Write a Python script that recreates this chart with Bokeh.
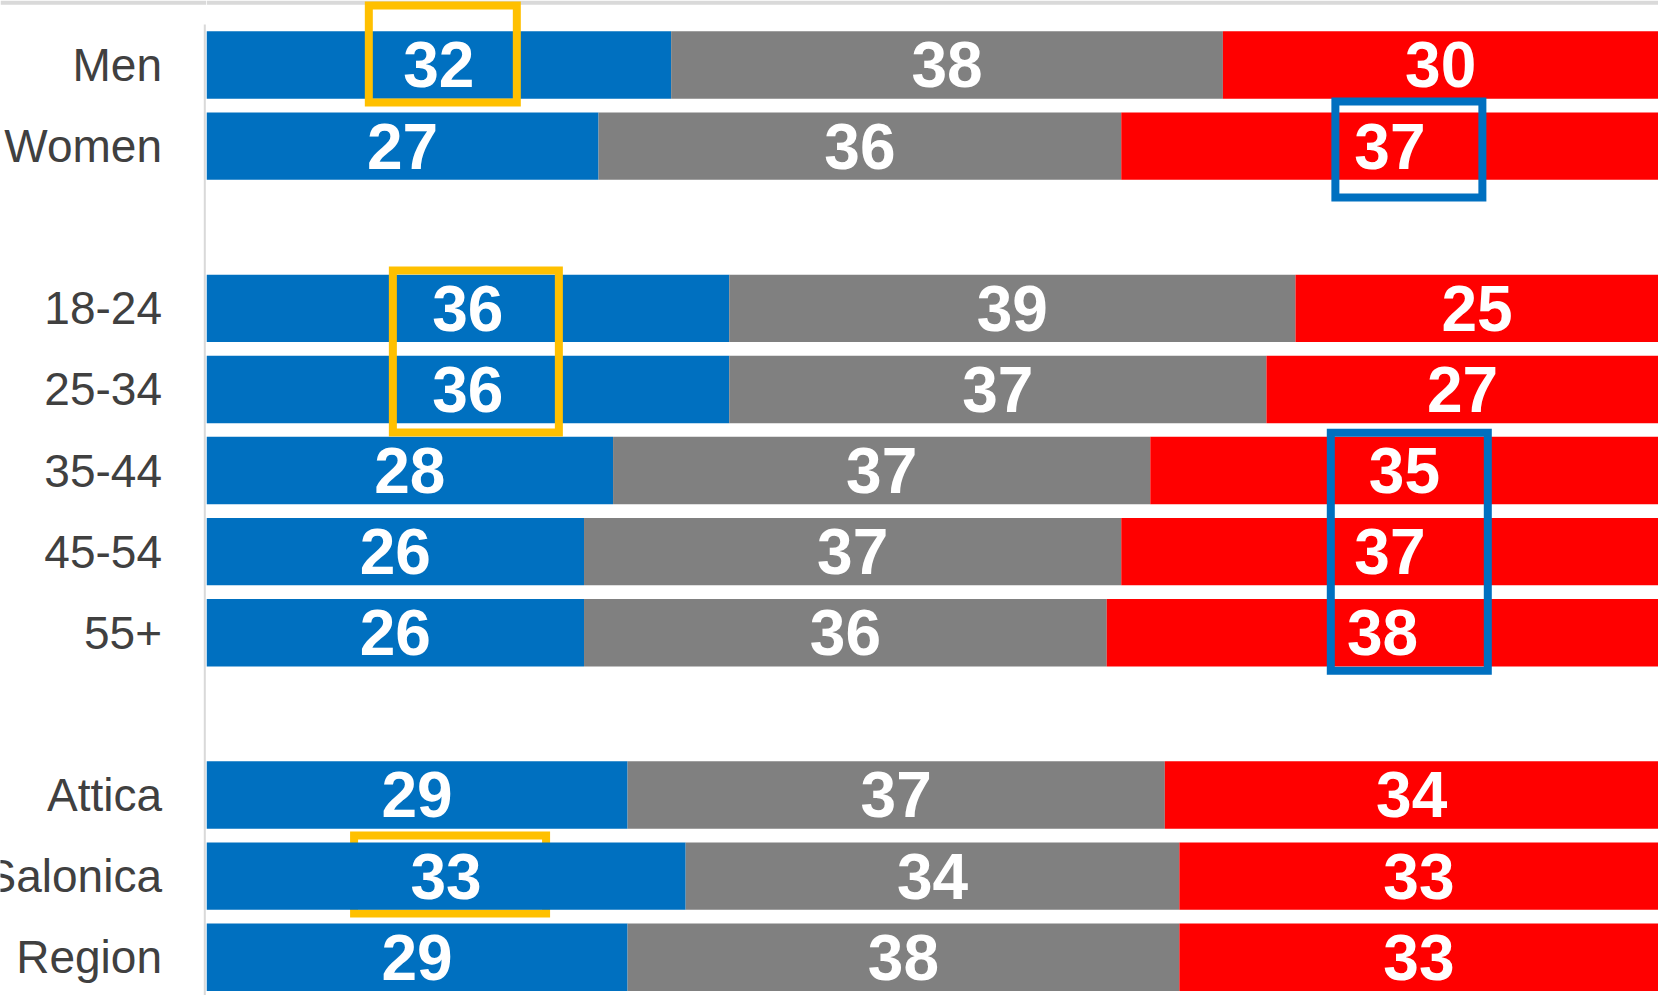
from bokeh.plotting import figure
from bokeh.models import ColumnDataSource, Range1d
from bokeh.layouts import row
from bokeh.core.properties import value
from bokeh.embed import file_html
from bokeh.resources import INLINE

# ---------------- data ----------------
categories = ["Men", "Women", "18-24", "25-34", "35-44", "45-54", "55+",
              "Attica", "Salonica", "Region"]
group_sizes = [2, 5, 3]          # gender, age, region
blue_vals = [32, 27, 36, 36, 28, 26, 26, 29, 33, 29]
gray_vals = [38, 36, 39, 37, 37, 37, 36, 37, 34, 38]
red_vals = [30, 37, 25, 27, 35, 37, 38, 34, 33, 33]

# highlight boxes: first row, last row, segment, colour, w px, h px, dx px, dy px, on top
highlights = [
    ("Men", "Men", "blue", "#FFC000", 148, 97, 4, -11, True),
    ("Women", "Women", "red", "#0070C0", 147, 96, 19, 3.5, True),
    ("18-24", "25-34", "blue", "#FFC000", 166, 162, 8, 2.5, True),
    ("35-44", "55+", "red", "#0070C0", 157, 238, 17, 0, True),
    ("Salonica", "Salonica", "blue", "#FFC000", 192, 78, 4, -1.5, False),
]

BLUE, GRAY, RED = "#0070C0", "#808080", "#FF0000"
LABEL_COLOR = "#404040"
RULE_COLOR = "#d9d9d9"

# ---------------- layout constants ----------------
TOTAL_W, H = 1658, 995
LEFT_W = 206
W = TOTAL_W - LEFT_W
XMAX = 100
px_x = W / XMAX
Y_TOP, Y_BOTTOM = -0.7952, 11.472
px_y = H / (Y_BOTTOM - Y_TOP)
TOP_RULE_PX = 4.3

# row positions (one blank slot between groups)
ypos = []
count = 0
for g, n in enumerate(group_sizes):
    for k in range(n):
        ypos.append(count + g)
        count += 1

b_left = [0] * len(categories)
b_right = list(blue_vals)
g_left = b_right
g_right = [b + g for b, g in zip(blue_vals, gray_vals)]
r_left = g_right
r_right = [l + r for l, r in zip(g_right, red_vals)]

src = ColumnDataSource(dict(
    y=ypos, cat=categories,
    bl=b_left, br=b_right, gl=g_left, gr=g_right, rl=r_left, rr=r_right,
    bc=[(a + b) / 2 for a, b in zip(b_left, b_right)],
    gc=[(a + b) / 2 for a, b in zip(g_left, g_right)],
    rc=[(a + b) / 2 for a, b in zip(r_left, r_right)],
    bt=[str(v) for v in blue_vals],
    gt=[str(v) for v in gray_vals],
    rt=[str(v) for v in red_vals],
))


def base_fig(width, x_end):
    f = figure(width=width, height=H,
               x_range=Range1d(0, x_end), y_range=Range1d(Y_BOTTOM, Y_TOP),
               output_backend="svg", toolbar_location=None,
               min_border_left=0, min_border_right=0,
               min_border_top=0, min_border_bottom=0)
    f.outline_line_color = None
    f.xgrid.visible = False
    f.ygrid.visible = False
    f.xaxis.visible = False
    f.yaxis.visible = False
    f.background_fill_color = "white"
    f.border_fill_color = "white"
    # thin grey rule along the very top
    f.quad(left=0, right=x_end, top=Y_TOP,
           bottom=Y_TOP + TOP_RULE_PX / px_y,
           fill_color=RULE_COLOR, line_color=None)
    return f


# ---------------- left panel: category labels + axis line ----------------
pl = base_fig(LEFT_W, LEFT_W)
pl.segment(x0=LEFT_W - 1.7, x1=LEFT_W - 1.7, y0=ypos[0] - 0.5, y1=Y_BOTTOM,
           line_color=RULE_COLOR, line_width=2)
pl.text(x=LEFT_W - 44.5, y="y", text="cat", source=src,
        text_font=value("Liberation Sans"), text_font_size="46px",
        text_color=LABEL_COLOR, text_align="right", text_baseline="middle")

# ---------------- main panel: stacked bars ----------------
p = base_fig(W, XMAX)

seg_centers = {"blue": src.data["bc"], "gray": src.data["gc"], "red": src.data["rc"]}


def draw_boxes(front):
    xs, ys, ws, hs, cs = [], [], [], [], []
    for first, last, seg, col, w, h, dx, dy, on_top in highlights:
        if on_top != front:
            continue
        i0, i1 = categories.index(first), categories.index(last)
        rows = list(range(i0, i1 + 1))
        xc = sum(seg_centers[seg][i] for i in rows) / len(rows)
        yc = sum(ypos[i] for i in rows) / len(rows)
        xs.append(xc + dx / px_x)
        ys.append(yc + dy / px_y)
        ws.append(w)
        hs.append(h)
        cs.append(col)
    if xs:
        p.rect(x=xs, y=ys, width=ws, height=hs, width_units="screen",
               height_units="screen", fill_color=None, line_color=cs,
               line_width=8, line_join="miter")


draw_boxes(False)

BAR_H = 0.831
p.hbar(y="y", left="bl", right="br", height=BAR_H, source=src,
       fill_color=BLUE, line_color=None)
p.hbar(y="y", left="gl", right="gr", height=BAR_H, source=src,
       fill_color=GRAY, line_color=None)
p.hbar(y="y", left="rl", right="rr", height=BAR_H, source=src,
       fill_color=RED, line_color=None)

for xc, tc in (("bc", "bt"), ("gc", "gt"), ("rc", "rt")):
    p.text(x=xc, y="y", text=tc, source=src,
           text_font=value("Liberation Sans"), text_font_style="bold",
           text_font_size="64px", text_color="white",
           text_align="center", text_baseline="middle")

draw_boxes(True)

layout = row(pl, p, spacing=0)
open("out.html", "w").write(file_html(layout, INLINE))
